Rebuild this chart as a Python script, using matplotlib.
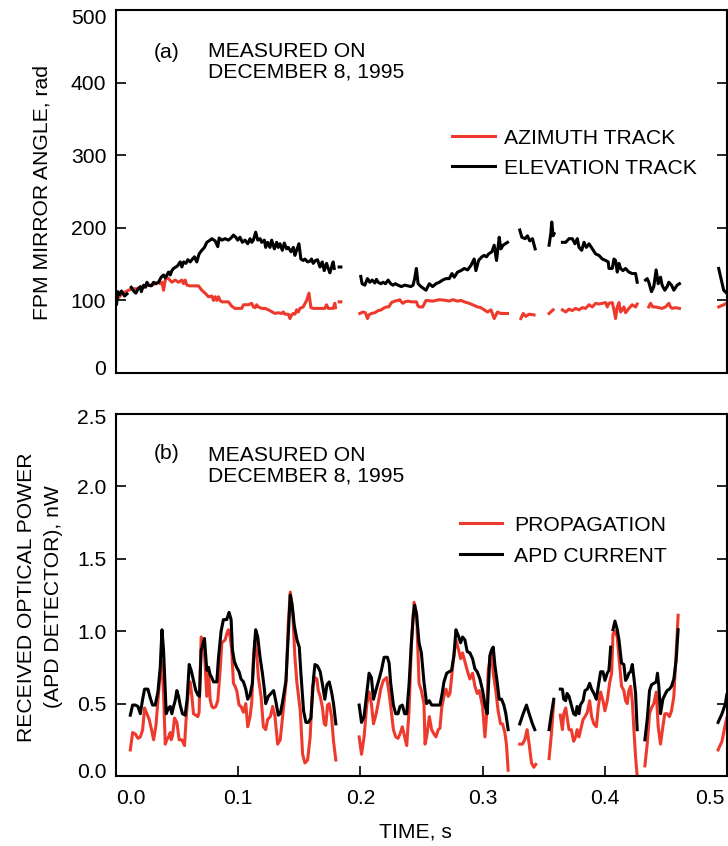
import numpy as np
import matplotlib
matplotlib.use('Agg')
import matplotlib.pyplot as plt
from matplotlib.lines import Line2D
from matplotlib.transforms import ScaledTranslation

# Daten (Zeit in ms); Segmente = Messluecken
elevation = [
    [(0.5, 95), (1.5, 112), (3, 108), (4.5, 113), (7, 106), (9, 109)],
    [(12.5, 118), (14.4, 113), (16.3, 110), (18.0, 116), (19.9, 119), (20.7, 112), (22.6, 121), (24.0, 118),
     (25.3, 125), (26.7, 121), (28.9, 120), (30.8, 125), (32.7, 123), (34.8, 125), (37.0, 132), (38.9, 135),
     (40.3, 131), (41.6, 135), (43.0, 139), (44.4, 135), (45.7, 141), (47.1, 144), (49.0, 146), (50.6, 148),
     (52.5, 153), (53.9, 146), (55.3, 153), (57.2, 151), (58.8, 156), (60.7, 153), (62.6, 157), (64.2, 160),
     (66.1, 153), (68.0, 164), (70.2, 169), (72.4, 173), (74.3, 180), (77.0, 183), (78.4, 185), (81.1, 182),
     (83.3, 174), (84.4, 186), (86.6, 183), (89.3, 185), (92.0, 183), (94.2, 186), (96.1, 190), (98.0, 187),
     (99.6, 183), (101.5, 187), (103.4, 180), (105.6, 183), (107.8, 178), (109.7, 185), (111.1, 180),
     (112.4, 183), (114.3, 194), (116.0, 183), (117.9, 185), (119.2, 180), (121.4, 183), (122.5, 173),
     (124.1, 180), (126.0, 173), (127.4, 183), (129.6, 171), (131.5, 180), (132.8, 173), (134.2, 178),
     (136.1, 169), (137.7, 179), (139.6, 171), (141.0, 173), (143.2, 167), (145.1, 173), (146.4, 162),
     (147.8, 169), (149.7, 178), (151.3, 157), (153.2, 155), (154.6, 157), (156.8, 153), (158.7, 154),
     (160.0, 157), (161.4, 151), (163.3, 155), (164.9, 156), (166.9, 146), (168.8, 153), (170.4, 141),
     (172.3, 151), (173.7, 144), (175.0, 138), (176.4, 146), (177.7, 153), (178.6, 144)],
    [(182.6, 146), (184.0, 146)],
    [(200.3, 133), (201.4, 123), (203.6, 121), (205.8, 130), (207.7, 125), (209.6, 128), (211.8, 124),
     (213.1, 129), (214.5, 125), (216.7, 123), (218.6, 125), (220.5, 123), (222.7, 128), (224.8, 123),
     (226.7, 121), (228.6, 123), (230.8, 121), (233.5, 119), (236.3, 121), (239.0, 120), (241.2, 119),
     (243.1, 121), (244.4, 130), (245.8, 144), (247.2, 123), (249.6, 119), (253.7, 114), (256.4, 123),
     (259.1, 119), (261.8, 123), (264.6, 125), (267.3, 128), (270.0, 130), (272.7, 130), (274.9, 137),
     (276.8, 132), (279.5, 139), (282.3, 141), (285.0, 144), (287.7, 142), (290.4, 148), (293.1, 157),
     (294.5, 141), (296.7, 155), (299.4, 160), (301.3, 162), (303.2, 160), (304.9, 164), (307.6, 167),
     (309.5, 176), (311.4, 155), (313.6, 187), (314.9, 171), (316.8, 176), (320.4, 180)],
    [(330.4, 197), (332.1, 187), (334.8, 185), (336.7, 189), (338.6, 182), (340.8, 185), (343.0, 171)],
    [(354.4, 176), (355.8, 192), (356.6, 208), (357.7, 189), (358.5, 192)],
    [(365.3, 180), (368.0, 180), (370.7, 185), (373.4, 185), (375.6, 178), (377.5, 185), (378.9, 173),
     (381.1, 169), (383.0, 180), (384.9, 173), (387.1, 178), (389.8, 171), (392.5, 164), (395.2, 162),
     (398.0, 157), (400.7, 155), (402.8, 153), (403.4, 144), (406.1, 144), (407.5, 157), (408.8, 155),
     (410.2, 139), (411.6, 151), (412.9, 144), (414.8, 141), (417.0, 144), (419.7, 139), (422.4, 137),
     (425.2, 137), (426.5, 125)],
    [(433.3, 128), (434.7, 130), (436.0, 125), (438.2, 112), (440.1, 119), (442.0, 142), (443.7, 123),
     (445.6, 132), (446.9, 121), (449.1, 114), (451.0, 119), (452.4, 125), (454.6, 121), (456.5, 114),
     (459.2, 121), (461.1, 123)],
    [(493.2, 144), (497.3, 114), (499.7, 110)],
]

azimuth = [
    [(0.8, 107), (2.2, 104), (4.9, 109), (9.0, 113), (13.1, 116), (18.5, 116), (24.0, 120), (29.4, 121),
     (34.8, 125), (36.2, 123), (37.6, 125), (38.9, 114), (40.3, 128), (41.6, 132), (43.0, 130), (45.7, 125),
     (48.4, 128), (51.2, 125), (53.9, 128), (55.3, 123), (56.6, 128), (58.0, 121), (60.7, 120), (67.5, 120),
     (70.2, 114), (72.9, 110), (75.7, 105), (78.4, 106), (79.8, 100), (81.1, 105), (82.5, 100), (83.8, 105),
     (85.2, 100), (86.6, 98), (92.0, 98), (94.7, 92), (97.4, 89), (102.9, 89), (104.3, 94), (108.3, 94),
     (111.1, 96), (112.4, 91), (113.8, 90), (115.1, 94), (116.5, 91), (119.2, 89), (122.0, 89), (124.7, 87),
     (130.1, 82), (132.8, 83), (135.6, 82), (136.9, 84), (138.3, 81), (141.0, 81), (142.4, 75), (143.7, 80),
     (145.1, 82), (146.4, 81), (147.8, 87), (149.2, 84), (150.5, 89), (153.2, 91), (156.0, 100), (157.9, 110),
     (159.5, 90), (161.4, 89), (170.9, 89), (172.3, 94), (173.7, 89), (177.7, 89), (179.1, 96), (179.6, 90)],
    [(182.6, 98), (184.0, 98)],
    [(199.5, 82), (202.2, 84), (204.1, 83), (205.8, 75), (206.9, 80), (209.0, 82), (211.8, 83), (214.5, 86),
     (217.2, 87), (218.6, 89), (221.3, 91), (223.2, 91), (225.4, 97), (228.1, 99), (230.8, 100), (232.2, 101),
     (233.5, 98), (234.9, 96), (236.3, 98), (239.0, 99), (241.7, 98), (245.8, 98), (247.2, 92), (248.2, 91),
     (251.0, 91), (253.7, 100), (259.1, 99), (264.6, 101), (270.0, 100), (272.7, 99), (275.5, 101),
     (279.5, 99), (282.3, 100), (285.0, 98), (289.1, 96), (291.8, 94), (295.9, 91), (298.6, 90), (301.3, 87),
     (304.0, 84), (306.8, 87), (309.5, 75), (312.2, 84), (314.9, 82), (320.4, 82)],
    [(331.3, 75), (333.2, 82), (335.3, 78), (338.1, 81), (342.1, 80)],
    [(354.4, 82), (357.7, 87)],
    [(365.3, 87), (368.0, 84), (370.7, 88), (373.4, 86), (376.2, 89), (378.9, 87), (381.6, 90), (384.3, 89),
     (387.1, 94), (389.8, 91), (392.5, 96), (395.2, 95), (398.0, 96), (400.7, 97), (402.0, 91), (403.4, 96),
     (406.1, 97), (407.5, 87), (408.8, 75), (410.2, 91), (411.6, 97), (412.9, 84), (414.3, 87), (415.6, 91),
     (417.0, 83), (419.7, 89), (422.4, 94), (425.2, 91), (426.5, 95)],
    [(436.0, 91), (437.4, 96), (439.3, 91), (441.5, 91), (444.2, 90), (446.9, 89), (449.7, 91), (452.4, 96),
     (453.7, 91), (455.1, 89), (457.8, 90), (461.1, 89)],
    [(493.2, 91), (497.3, 94), (499.7, 96)],
]

apd_current = [
    [(11.7, 0.42), (13.6, 0.49), (15.8, 0.49), (18.0, 0.48), (19.9, 0.43), (21.8, 0.53), (23.4, 0.60),
     (26.1, 0.60), (28.0, 0.54), (29.9, 0.49), (32.1, 0.49), (34.3, 0.58), (36.2, 0.75), (37.6, 1.01),
     (38.9, 0.87), (40.3, 0.59), (41.1, 0.43), (43.0, 0.47), (44.4, 0.48), (45.7, 0.43), (47.1, 0.48),
     (48.4, 0.52), (49.8, 0.59), (51.2, 0.55), (52.5, 0.49), (54.4, 0.43), (56.6, 0.42), (58.2, 0.53),
     (59.9, 0.77), (61.5, 0.73), (63.4, 0.66), (65.3, 0.59), (67.0, 0.56), (68.3, 0.55), (69.7, 0.87),
     (70.8, 0.90), (72.4, 0.95), (74.3, 0.73), (75.7, 0.75), (77.0, 0.70), (78.4, 0.68), (79.8, 0.65),
     (82.5, 0.65), (83.8, 0.81), (86.0, 1.00), (87.9, 1.08), (90.6, 1.08), (92.5, 1.13), (94.2, 1.08),
     (95.3, 0.87), (96.9, 0.79), (98.8, 0.75), (100.7, 0.72), (102.3, 0.67), (104.3, 0.65), (106.2, 0.60),
     (107.8, 0.53), (109.7, 0.56), (111.6, 0.64), (113.2, 0.89), (114.3, 1.01), (116.0, 0.96), (117.9, 0.82),
     (119.8, 0.71), (121.4, 0.60), (122.5, 0.50), (124.7, 0.55), (126.8, 0.57), (129.0, 0.59), (130.9, 0.51),
     (132.8, 0.42), (134.4, 0.43), (136.3, 0.51), (139.1, 0.66), (141.0, 0.98), (142.6, 1.25), (144.0, 1.19),
     (145.9, 1.04), (148.1, 0.94), (150.0, 0.89), (151.3, 0.71), (153.5, 0.45), (155.4, 0.37), (157.3, 0.37),
     (159.5, 0.40), (161.7, 0.68), (162.8, 0.77), (164.9, 0.76), (167.1, 0.72), (169.0, 0.63), (170.9, 0.53),
     (172.6, 0.63), (174.5, 0.65), (176.4, 0.58), (178.0, 0.50), (179.9, 0.36)],
    [(199.0, 0.49), (200.9, 0.37), (203.0, 0.41), (205.2, 0.57), (207.1, 0.71), (209.0, 0.68), (210.7, 0.53),
     (212.6, 0.59), (215.3, 0.67), (217.2, 0.73), (219.4, 0.82), (222.1, 0.82), (223.5, 0.78), (224.8, 0.64),
     (227.0, 0.49), (228.9, 0.43), (230.8, 0.43), (232.4, 0.48), (234.3, 0.49), (236.2, 0.43), (237.9, 0.43),
     (239.8, 0.63), (241.7, 0.92), (243.3, 1.11), (244.4, 1.18), (246.0, 1.11), (248.0, 0.92), (249.9, 0.85),
     (252.0, 0.65), (254.2, 0.50), (256.4, 0.52), (258.3, 0.49), (265.1, 0.49), (266.5, 0.55), (268.4, 0.65),
     (270.6, 0.71), (272.7, 0.72), (274.6, 0.73), (276.5, 0.83), (278.2, 1.01), (280.1, 0.97), (282.0, 0.92),
     (283.6, 0.96), (285.5, 0.94), (287.4, 0.86), (289.6, 0.85), (291.8, 0.81), (293.7, 0.74), (295.6, 0.72),
     (297.8, 0.67), (300.0, 0.59), (301.9, 0.49), (303.8, 0.43), (305.9, 0.83), (307.3, 0.87), (308.7, 0.89),
     (310.0, 0.77), (311.9, 0.65), (313.6, 0.53), (315.5, 0.53), (317.4, 0.49), (319.0, 0.43), (320.9, 0.32)],
    [(330.4, 0.36), (333.2, 0.43), (335.9, 0.49), (338.1, 0.43), (340.8, 0.36), (342.7, 0.32)],
    [(354.4, 0.32), (356.3, 0.43), (358.2, 0.53)],
    [(363.6, 0.60), (365.3, 0.60), (366.4, 0.53), (368.0, 0.52), (369.1, 0.57), (370.7, 0.55), (372.6, 0.49),
     (374.5, 0.43), (376.2, 0.42), (377.3, 0.48), (378.9, 0.43), (380.0, 0.49), (382.2, 0.52), (383.8, 0.59),
     (385.7, 0.60), (387.6, 0.64), (389.2, 0.60), (391.1, 0.57), (393.1, 0.53), (394.7, 0.62), (396.6, 0.72),
     (398.5, 0.72), (400.1, 0.66), (402.0, 0.71), (403.4, 0.73), (404.8, 0.89)],
    [(406.7, 1.01), (408.3, 1.07), (410.2, 1.01), (411.6, 0.94), (413.7, 0.78), (415.6, 0.77), (417.0, 0.66),
     (418.4, 0.68), (419.7, 0.71), (421.1, 0.72), (422.5, 0.77), (423.8, 0.68), (425.2, 0.57), (426.5, 0.32)],
    [(432.8, 0.25), (434.7, 0.39), (436.6, 0.59), (438.2, 0.63), (440.1, 0.64), (442.1, 0.65), (443.1, 0.71),
     (444.2, 0.62), (445.6, 0.43), (447.5, 0.53), (449.7, 0.57), (451.0, 0.59), (452.9, 0.60), (454.6, 0.62),
     (456.5, 0.67), (458.4, 0.80), (460.0, 1.01)],
    [(492.7, 0.37), (495.9, 0.43), (498.7, 0.50), (499.8, 0.56)],
]

propagation = [
    [(11.7, 0.18), (13.6, 0.30), (15.8, 0.29), (18.0, 0.26), (19.9, 0.27), (21.8, 0.32), (23.4, 0.47),
     (25.3, 0.43), (27.2, 0.39), (28.8, 0.33), (30.8, 0.25), (32.7, 0.35), (34.3, 0.52), (36.2, 0.71),
     (37.6, 0.79), (38.9, 0.57), (40.3, 0.22), (41.6, 0.25), (43.0, 0.27), (44.4, 0.30), (45.2, 0.25),
     (46.3, 0.28), (47.9, 0.40), (49.8, 0.37), (51.7, 0.25), (53.9, 0.25), (56.1, 0.21), (57.2, 0.37),
     (58.8, 0.55), (60.7, 0.65), (62.1, 0.55), (63.4, 0.43), (65.3, 0.42), (67.0, 0.41), (68.0, 0.44),
     (69.7, 0.96), (70.8, 0.94), (72.4, 0.85), (74.3, 0.55), (75.7, 0.75), (77.0, 0.53), (78.4, 0.48),
     (79.8, 0.47), (81.7, 0.48), (83.3, 0.52), (85.2, 0.73), (86.6, 0.92), (89.3, 0.94), (90.6, 0.98),
     (92.0, 1.01), (93.4, 0.96), (94.7, 0.87), (96.1, 0.64), (97.4, 0.62), (98.8, 0.59), (100.7, 0.49),
     (102.3, 0.48), (104.3, 0.44), (106.2, 0.50), (107.8, 0.34), (109.7, 0.41), (111.1, 0.51), (112.4, 0.80),
     (113.8, 0.94), (115.1, 0.85), (116.5, 0.68), (118.7, 0.55), (120.6, 0.34), (122.5, 0.32), (124.1, 0.39),
     (126.3, 0.41), (128.2, 0.48), (130.1, 0.41), (132.3, 0.22), (134.4, 0.25), (136.3, 0.41), (139.1, 0.64),
     (141.0, 1.05), (142.6, 1.27), (144.5, 1.15), (146.4, 0.82), (148.1, 0.64), (149.1, 0.57), (150.8, 0.45),
     (152.7, 0.15), (154.6, 0.09), (156.8, 0.11), (158.9, 0.27), (160.8, 0.62), (162.8, 0.68), (164.4, 0.67),
     (165.5, 0.59), (167.1, 0.55), (169.0, 0.47), (170.4, 0.36), (171.7, 0.35), (173.1, 0.49), (174.5, 0.50),
     (176.4, 0.41), (178.0, 0.24), (179.9, 0.11)],
    [(199.0, 0.27), (200.9, 0.15), (203.0, 0.27), (205.2, 0.49), (207.1, 0.58), (209.0, 0.50), (210.7, 0.36),
     (212.6, 0.42), (214.5, 0.50), (216.6, 0.60), (218.8, 0.66), (221.5, 0.68), (223.5, 0.57), (225.4, 0.44),
     (227.0, 0.32), (228.9, 0.27), (230.8, 0.26), (232.4, 0.29), (234.3, 0.34), (236.2, 0.27), (237.9, 0.21),
     (239.8, 0.45), (241.7, 0.90), (243.9, 1.20), (246.0, 1.12), (248.0, 0.64), (249.9, 0.59), (252.0, 0.50),
     (252.9, 0.22), (254.2, 0.27), (256.4, 0.41), (258.3, 0.32), (260.2, 0.29), (261.8, 0.27), (263.7, 0.32),
     (265.1, 0.33), (266.5, 0.47), (268.4, 0.55), (270.0, 0.60), (271.9, 0.55), (273.3, 0.57), (274.6, 0.68),
     (276.5, 0.83), (278.2, 0.94), (280.1, 0.88), (282.0, 0.81), (283.6, 0.85), (285.5, 0.79), (287.4, 0.73),
     (289.6, 0.67), (291.8, 0.71), (293.7, 0.62), (295.6, 0.57), (297.2, 0.59), (298.3, 0.55), (300.0, 0.48),
     (301.9, 0.27), (303.2, 0.41), (304.6, 0.73), (305.9, 0.80), (307.3, 0.86), (308.7, 0.71), (310.8, 0.59),
     (312.7, 0.45), (314.7, 0.36), (316.3, 0.36), (318.2, 0.30), (319.5, 0.22), (320.9, 0.04)],
    [(330.4, 0.22), (332.6, 0.22), (334.5, 0.25), (336.4, 0.32), (338.1, 0.22), (340.0, 0.09), (341.9, 0.06),
     (343.5, 0.08)],
    [(354.4, 0.12), (356.3, 0.29), (358.2, 0.51)],
    [(363.6, 0.42), (365.3, 0.32), (366.4, 0.43), (368.0, 0.47), (369.1, 0.41), (370.7, 0.32), (372.6, 0.32),
     (374.5, 0.24), (376.2, 0.27), (377.3, 0.32), (378.9, 0.27), (380.8, 0.34), (382.2, 0.39), (383.8, 0.41),
     (385.7, 0.44), (387.6, 0.52), (389.2, 0.41), (391.1, 0.36), (393.1, 0.34), (394.7, 0.48), (396.6, 0.58),
     (398.5, 0.52), (400.1, 0.45), (402.0, 0.52), (403.9, 0.64), (405.6, 0.71), (406.7, 0.98), (408.3, 1.00),
     (410.2, 0.96), (411.6, 0.82), (413.7, 0.62), (415.6, 0.59), (417.0, 0.52), (418.4, 0.50), (419.7, 0.59),
     (421.1, 0.62), (422.5, 0.52), (423.8, 0.32), (425.2, 0.13), (426.5, 0.00), (427.5, -0.05)],
    [(432.8, 0.07), (434.7, 0.22), (436.6, 0.43), (438.2, 0.47), (440.1, 0.50), (442.1, 0.58), (443.7, 0.34),
     (445.6, 0.22), (447.5, 0.34), (449.1, 0.43), (451.0, 0.43), (452.9, 0.41), (454.6, 0.45), (456.5, 0.55),
     (458.4, 0.85), (460.0, 1.11)],
    [(492.7, 0.18), (495.9, 0.24), (498.7, 0.36), (499.8, 0.40)],
]

x_ticks = [0.0, 0.1, 0.2, 0.3, 0.4, 0.5]
angle_ticks = [0, 100, 200, 300, 400, 500]
power_ticks = [0.0, 0.5, 1.0, 1.5, 2.0, 2.5]

RED = '#ee3a2c'
BLACK = '#000000'
FS = 15.2
LW = 2.2

plt.rcParams['font.family'] = ['Liberation Sans', 'DejaVu Sans']
plt.rcParams['font.size'] = FS


def to_xy(segments):
    # Segmente mit NaN verbinden, damit die Luecken bleiben
    t, v = [], []
    for seg in segments:
        for a, b in seg:
            t.append(a / 1000.0)
            v.append(b)
        t.append(np.nan)
        v.append(np.nan)
    return np.array(t), np.array(v)


def style_axis(ax):
    for s in ax.spines.values():
        s.set_linewidth(1.5)
    ax.tick_params(axis='y', direction='in', length=7, width=1.2, left=True, right=True, labelsize=FS, pad=7)
    ax.tick_params(axis='x', direction='in', length=7, width=1.2, labelsize=FS, pad=9)
    ax.set_xlim(0, 0.5)
    ax.set_xticks(x_ticks)


def nudge(label, dx, dy):
    # Endbeschriftungen leicht nach innen schieben (Pixel)
    label.set_transform(label.get_transform() + ScaledTranslation(dx / 100, dy / 100, fig.dpi_scale_trans))


fig = plt.figure(figsize=(7.28, 8.46), dpi=100)
ax1 = fig.add_axes([116 / 728, 1 - 373 / 846, 611 / 728, 363 / 846])
ax2 = fig.add_axes([116 / 728, 1 - 776 / 846, 611 / 728, 362 / 846])

# (a) Spiegelwinkel
t, v = to_xy(azimuth)
ax1.plot(t, v, color=RED, lw=LW)
t, v = to_xy(elevation)
ax1.plot(t, v, color=BLACK, lw=LW)
style_axis(ax1)
ax1.set_ylim(0, 500)
ax1.set_yticks(angle_ticks)
ax1.tick_params(axis='x', bottom=False, labelbottom=False)
ylab = ax1.get_yticklabels()
nudge(ylab[0], 0, 6)
nudge(ylab[-1], 0, -7)

ax1.text(0.062, 0.882, '(a)', transform=ax1.transAxes, va='center')
ax1.text(0.151, 0.857, 'MEASURED ON\nDECEMBER 8, 1995', transform=ax1.transAxes, va='center', linespacing=1.1)
h1 = [Line2D([], [], color=RED, lw=LW), Line2D([], [], color=BLACK, lw=LW)]
ax1.legend(h1, ['AZIMUTH TRACK', 'ELEVATION TRACK'], loc='upper left', bbox_to_anchor=(0.55, 0.673),
           frameon=False, handlelength=2.05, handletextpad=0.4, labelspacing=0.52,
           borderpad=0, borderaxespad=0, fontsize=FS)

# (b) Empfangsleistung
t, v = to_xy(propagation)
ax2.plot(t, v, color=RED, lw=LW)
t, v = to_xy(apd_current)
ax2.plot(t, v, color=BLACK, lw=LW)
style_axis(ax2)
ax2.set_ylim(0, 2.5)
ax2.set_yticks(power_ticks)
ax2.set_yticklabels(['%.1f' % p for p in power_ticks])
ax2.set_xticklabels(['%.1f' % x for x in x_ticks])
ylab = ax2.get_yticklabels()
nudge(ylab[0], 0, 6)
nudge(ylab[-1], 0, -3)
xlab = ax2.get_xticklabels()
xlab[0].set_horizontalalignment('left')
xlab[-1].set_horizontalalignment('right')
nudge(xlab[-1], -2, 0)

ax2.text(0.062, 0.89, '(b)', transform=ax2.transAxes, va='center')
ax2.text(0.151, 0.857, 'MEASURED ON\nDECEMBER 8, 1995', transform=ax2.transAxes, va='center', linespacing=1.1)
h2 = [Line2D([], [], color=RED, lw=LW), Line2D([], [], color=BLACK, lw=LW)]
ax2.legend(h2, ['PROPAGATION', 'APD CURRENT'], loc='upper left', bbox_to_anchor=(0.563, 0.719),
           frameon=False, handlelength=2.0, handletextpad=0.55, labelspacing=0.57,
           borderpad=0, borderaxespad=0, fontsize=FS)

fig.text(42 / 728, 1 - 192 / 846, 'FPM MIRROR ANGLE, rad', rotation=90, ha='center', va='center')
fig.text(40 / 728, 1 - 597 / 846, 'RECEIVED OPTICAL POWER\n(APD DETECTOR), nW', rotation=90,
         ha='center', va='center', multialignment='center', linespacing=1.5)
fig.text(415 / 728, 1 - 832 / 846, 'TIME, s', ha='center', va='center')

fig.savefig('out.png', dpi=100)
